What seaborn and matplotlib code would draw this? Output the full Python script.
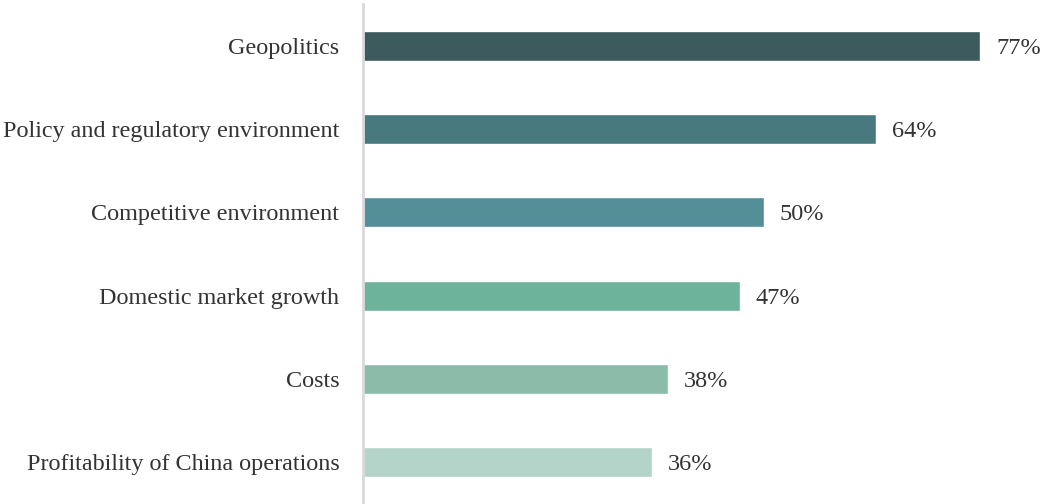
import matplotlib
matplotlib.use("Agg")
import matplotlib.pyplot as plt
import seaborn as sns
import pandas as pd

categories = [
    "Geopolitics",
    "Policy and regulatory environment",
    "Competitive environment",
    "Domestic market growth",
    "Costs",
    "Profitability of China operations",
]
values = [77, 64, 50, 47, 38, 36]
colors = ["#3D5A5C", "#48797F", "#548F98", "#6DB29A", "#8BBCA9", "#B4D4CA"]

sns.set_style("white")
plt.rcParams["font.family"] = ["Liberation Serif", "DejaVu Serif"]

df = pd.DataFrame({"factor": categories, "share": values})

fig = plt.figure(figsize=(10.41, 5.04), dpi=100)
ax = fig.add_axes([363 / 1041, 0.0, 1 - 363 / 1041, 1 - 4 / 504])

sns.barplot(data=df, x="share", y="factor", hue="factor", palette=colors,
            order=categories, hue_order=categories, width=0.36,
            legend=False, ax=ax, saturation=1)

for p, v in zip(ax.patches, values):
    y = p.get_y() + p.get_height() / 2
    ax.text(v + 2, y, f"{v}%", va="center_baseline", ha="left",
            fontsize=17.5, color="#333333")

ax.set_xlim(0, 84.6)
ax.set_ylim(5.5, -0.5)
ax.set_xlabel("")
ax.set_ylabel("")
ax.set_xticks([])
ax.tick_params(axis="y", length=0, pad=17, labelsize=17.4, labelcolor="#333333")
for lbl in ax.get_yticklabels():
    lbl.set_verticalalignment("center_baseline")
for s in ["top", "right", "bottom"]:
    ax.spines[s].set_visible(False)
ax.spines["left"].set_color("#d9d9d9")
ax.spines["left"].set_linewidth(2)

fig.savefig("out.png", dpi=100)
